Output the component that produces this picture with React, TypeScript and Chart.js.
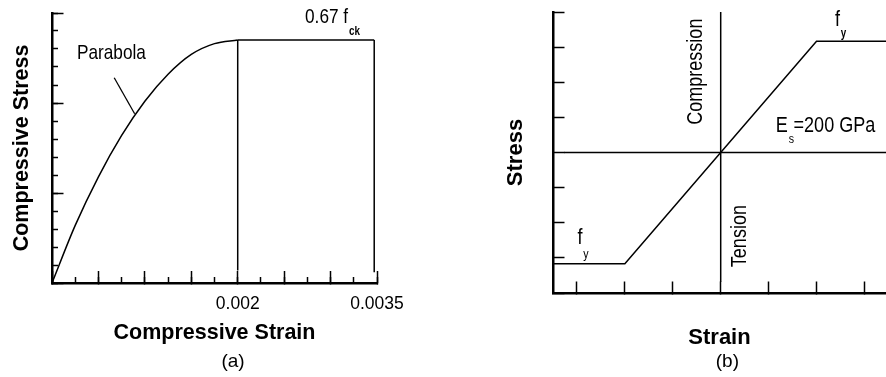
import React, { useEffect, useRef } from 'react';
import { Chart, registerables } from 'chart.js';

Chart.register(...registerables);

// ---------- Panel (a): concrete ----------
const concreteStrain = [0, 0.00025, 0.0005, 0.00075, 0.001, 0.00125, 0.0015, 0.00175, 0.002];
const concreteStress = [0, 3.2, 5.9, 8.2, 10.1, 11.6, 12.7, 13.3, 13.5];
const plateauStrain = [0.002, 0.00347];
const plateauStress = [13.5, 13.5];
const dropAStrain = [0.002, 0.002];
const dropAStress = [13.5, 0.7];
const dropBStrain = [0.00347, 0.00347];
const dropBStress = [13.5, 0.6];
const leaderStrain = [0.00067, 0.00089];
const leaderStress = [11.4, 9.4];
const concreteTickValues = [0.002, 0.0035];
const concreteTickLabels = ['0.002', '0.0035'];

// ---------- Panel (b): steel ----------
const steelStrain = [-3.5, -2, 2, 3.45];
const steelStress = [-3.17, -3.17, 3.17, 3.17];
const zeroStressStrain = [-3.27, 3.45];
const zeroStressStress = [0, 0];
const zeroStrainStrain = [0, 0];
const zeroStrainStress = [4, -3.69];

const SANS = "'Liberation Sans', Arial, sans-serif";
const INK = '#000';
const NARROW_X = 0.82; // horizontal squeeze to mimic a narrow face

const pts = (xs: number[], ys: number[]) => xs.map((x, i) => ({ x, y: ys[i] }));

const lineDs = (data: any[], extra: any = {}) => ({
  data,
  showLine: true,
  pointRadius: 0,
  borderColor: INK,
  borderWidth: 1.5,
  fill: false,
  ...extra,
});

type Note = {
  text: string;
  x: number;
  y: number;
  font: string;
  align?: CanvasTextAlign;
  rot?: number;
  sx?: number;
  sub?: string;
  subFont?: string;
  subDy?: number;
};

const notesPlugin = {
  id: 'notes',
  afterDraw(chart: any, _args: any, opts: any) {
    const notes: Note[] = opts.items || [];
    const ctx = chart.ctx;
    const xs = chart.scales.x;
    const ys = chart.scales.y;
    ctx.save();
    ctx.fillStyle = INK;
    ctx.textBaseline = 'middle';
    for (const n of notes) {
      const px = xs.getPixelForValue(n.x);
      const py = ys.getPixelForValue(n.y);
      ctx.save();
      ctx.translate(px, py);
      if (n.rot) ctx.rotate(n.rot);
      ctx.scale(n.sx ?? 1, 1);
      ctx.font = n.font;
      ctx.textAlign = n.align || 'left';
      ctx.fillText(n.text, 0, 0);
      if (n.sub) {
        const w = ctx.measureText(n.text).width;
        ctx.font = n.subFont || `bold 12px ${SANS}`;
        ctx.textAlign = 'left';
        ctx.fillText(n.sub, w + 1, n.subDy ?? 14);
      }
      ctx.restore();
    }
    ctx.restore();
  },
};

function tickAxis(extra: any) {
  return {
    type: 'linear',
    grid: {
      display: true,
      drawOnChartArea: false,
      drawTicks: true,
      tickColor: INK,
      tickWidth: 1.5,
      ...(extra.grid || {}),
    },
    border: { display: true, color: INK, width: 2.5, ...(extra.border || {}) },
    ...Object.fromEntries(Object.entries(extra).filter(([k]) => k !== 'grid' && k !== 'border')),
  };
}

function makeConcrete(canvas: HTMLCanvasElement) {
  return new Chart(canvas, {
    type: 'scatter',
    data: {
      datasets: [
        lineDs(pts(concreteStrain, concreteStress), { cubicInterpolationMode: 'monotone' }),
        lineDs(pts(plateauStrain, plateauStress)),
        lineDs(pts(dropAStrain, dropAStress)),
        lineDs(pts(dropBStrain, dropBStress)),
        lineDs(pts(leaderStrain, leaderStress), { borderWidth: 1.3 }),
      ],
    },
    options: {
      responsive: false,
      animation: false,
      devicePixelRatio: 1,
      layout: { padding: { left: 0, top: 13, right: 66, bottom: 0 } },
      plugins: {
        legend: { display: false },
        tooltip: { enabled: false },
        notes: {
          items: [
            { text: 'Parabola', x: 0.000269, y: 12.78, font: `21px ${SANS}`, sx: NARROW_X },
            { text: '0.67 f', x: 0.002725, y: 14.78, font: `21px ${SANS}`, sx: NARROW_X, sub: 'ck', subDy: 15 },
            { text: '(a)', x: 0.00195, y: -4.39, font: `19px ${SANS}`, align: 'center' },
          ],
        },
      } as any,
      scales: {
        x: tickAxis({
          position: 'bottom',
          min: 0,
          max: 0.0035,
          weight: 1,
          afterFit: (s: any) => { s.height = 94; },
          grid: { tickLength: -12 },
          ticks: {
            stepSize: 0.0005,
            autoSkip: false,
            maxRotation: 0,
            includeBounds: false,
            padding: 22.5,
            color: INK,
            font: { family: SANS, size: 17.5 },
            callback: (v: any) => {
              const i = concreteTickValues.findIndex((t) => Math.abs(t - Number(v)) < 1e-9);
              return i >= 0 ? concreteTickLabels[i] : '';
            },
          },
          title: {
            display: true,
            text: 'Compressive Strain',
            color: INK,
            font: { family: SANS, size: 21.5, weight: 'bold' },
            padding: { top: 0, bottom: 31 },
          },
        }),
        x2: tickAxis({
          position: 'bottom',
          min: 0,
          max: 0.0035,
          weight: 0,
          afterFit: (s: any) => { s.height = 0; },
          border: { display: false },
          grid: { tickLength: -6 },
          ticks: { display: false, stepSize: 0.00025, autoSkip: false, includeBounds: false },
        }),
        y: tickAxis({
          position: 'left',
          min: 0,
          max: 15,
          weight: 1,
          afterFit: (s: any) => { s.width = 52; },
          grid: { tickLength: -11.5 },
          ticks: { display: false, stepSize: 5, includeBounds: false },
          title: {
            display: true,
            text: 'Compressive Stress',
            color: INK,
            font: { family: SANS, size: 21.5, weight: 'bold' },
            padding: { top: 9, bottom: 0 },
          },
        }),
        y2: tickAxis({
          position: 'left',
          min: 0,
          max: 15,
          weight: 0,
          afterFit: (s: any) => { s.width = 0; },
          border: { display: false },
          grid: { tickLength: -6 },
          ticks: { display: false, stepSize: 1, includeBounds: false },
        }),
      } as any,
    },
    plugins: [notesPlugin],
  } as any);
}

function makeSteel(canvas: HTMLCanvasElement) {
  return new Chart(canvas, {
    type: 'scatter',
    data: {
      datasets: [
        lineDs(pts(zeroStressStrain, zeroStressStress)),
        lineDs(pts(zeroStrainStrain, zeroStrainStress)),
        lineDs(pts(steelStrain, steelStress)),
      ],
    },
    options: {
      responsive: false,
      animation: false,
      devicePixelRatio: 1,
      layout: { padding: { left: 0, top: 12, right: 0, bottom: 0 } },
      plugins: {
        legend: { display: false },
        tooltip: { enabled: false },
        notes: {
          items: [
            { text: 'Compression', x: -0.52, y: 2.3, font: `22px ${SANS}`, sx: NARROW_X, align: 'center', rot: -Math.PI / 2 },
            { text: 'Tension', x: 0.404, y: -2.38, font: `22px ${SANS}`, sx: NARROW_X, align: 'center', rot: -Math.PI / 2 },
            { text: 'E', x: 1.15, y: 0.75, font: `22px ${SANS}`, sx: NARROW_X, sub: 's', subFont: `13px ${SANS}`, subDy: 13 },
            { text: '=200 GPa', x: 1.52, y: 0.75, font: `22px ${SANS}`, sx: NARROW_X },
            { text: 'f', x: 2.385, y: 3.77, font: `22px ${SANS}`, sx: NARROW_X, sub: 'y', subDy: 14 },
            { text: 'f', x: -2.99, y: -2.44, font: `22px ${SANS}`, sx: NARROW_X, sub: 'y', subFont: `13px ${SANS}`, subDy: 16 },
            { text: '(b)', x: 0.14, y: -5.95, font: `19px ${SANS}`, align: 'center' },
          ],
        },
      } as any,
      scales: {
        x: tickAxis({
          position: 'bottom',
          min: -3.5,
          max: 3.45,
          afterFit: (s: any) => { s.height = 84; },
          grid: { tickLength: -11.5 },
          ticks: { display: false, stepSize: 1, autoSkip: false, includeBounds: false },
          title: {
            display: true,
            text: 'Strain',
            color: INK,
            font: { family: SANS, size: 22, weight: 'bold' },
            padding: { top: 0, bottom: 26.3 },
          },
        }),
        y: tickAxis({
          position: 'left',
          min: -4,
          max: 4,
          afterFit: (s: any) => { s.width = 110; },
          grid: { tickLength: -11.5 },
          ticks: { display: false, stepSize: 1, includeBounds: false },
          title: {
            display: true,
            text: 'Stress',
            color: INK,
            font: { family: SANS, size: 22, weight: 'bold' },
            padding: { top: 59.6, bottom: 0 },
          },
        }),
      } as any,
    },
    plugins: [notesPlugin],
  } as any);
}

export default function App() {
  const leftRef = useRef<HTMLCanvasElement>(null);
  const rightRef = useRef<HTMLCanvasElement>(null);

  useEffect(() => {
    const a = leftRef.current ? makeConcrete(leftRef.current) : null;
    const b = rightRef.current ? makeSteel(rightRef.current) : null;
    return () => {
      a?.destroy();
      b?.destroy();
    };
  }, []);

  return (
    <div style={{ position: 'fixed', left: 0, top: 0, width: 886, height: 377, background: '#fff', overflow: 'hidden' }}>
      <canvas ref={leftRef} width={443} height={377} style={{ position: 'absolute', left: 0, top: 0, width: 443, height: 377 }} />
      <canvas ref={rightRef} width={443} height={377} style={{ position: 'absolute', left: 443, top: 0, width: 443, height: 377 }} />
    </div>
  );
}
